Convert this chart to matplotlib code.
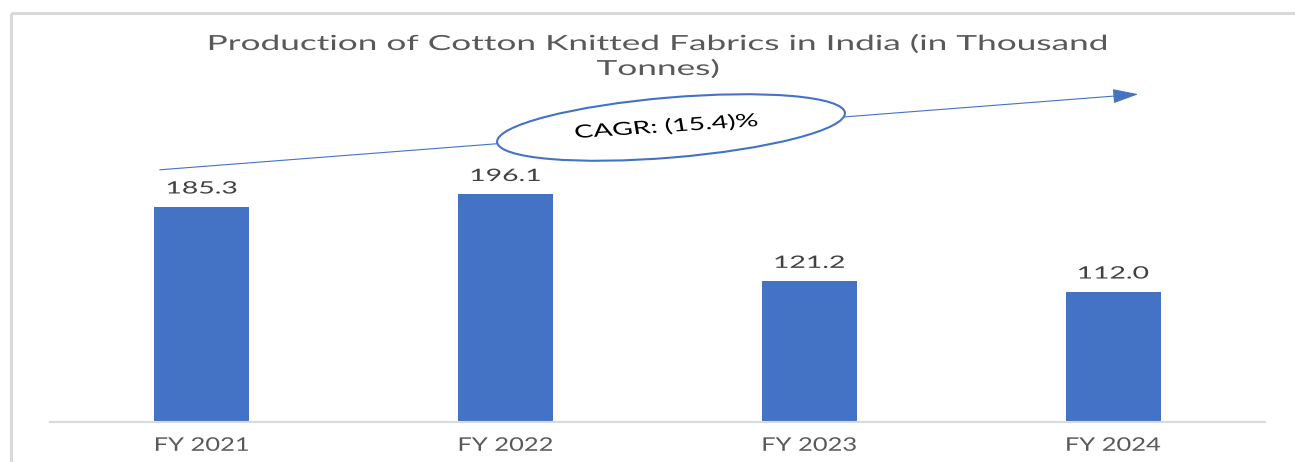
import matplotlib
matplotlib.use("Agg")
import matplotlib.pyplot as plt
from matplotlib.patches import Ellipse, FancyArrowPatch, Rectangle
from matplotlib.patheffects import AbstractPathEffect
from matplotlib.transforms import Affine2D

categories = ["FY 2021", "FY 2022", "FY 2023", "FY 2024"]
production = [185.3, 196.1, 121.2, 112.0]
value_labels = ["185.3", "196.1", "121.2", "112.0"]
title_lines = ["Production of Cotton Knitted Fabrics in India (in Thousand", "Tonnes)"]
cagr_text = "CAGR: (15.4)%"

BLUE = "#4472C4"
W, H = 1295, 462

plt.rcParams["font.family"] = ["Lato", "DejaVu Sans"]


class WideText(AbstractPathEffect):
    """Draw text widened horizontally about its own centre."""

    def __init__(self, sx):
        super().__init__()
        self.sx = sx

    def draw_path(self, renderer, gc, tpath, affine, rgbFace=None):
        ext = tpath.get_extents(affine)
        cx = 0.5 * (ext.x0 + ext.x1)
        t = affine + Affine2D().translate(-cx, 0).scale(self.sx, 1).translate(cx, 0)
        renderer.draw_path(gc, tpath, t, rgbFace)


fig = plt.figure(figsize=(W / 100, H / 100), dpi=100)
fig.patch.set_facecolor("white")

# overlay in pixel coordinates for the frame, title and trend annotation
over = fig.add_axes([0, 0, 1, 1])
over.set_xlim(0, W)
over.set_ylim(H, 0)
over.axis("off")

# bar axes
x0, x1, yb, yt = 50, 1265, 421.5, 40
ax = fig.add_axes([x0 / W, (H - yb) / H, (x1 - x0) / W, (yb - yt) / H])
ax.set_xlim(-0.5, len(categories) - 0.5)
ax.set_ylim(0, (yb - yt) / 1.16)
xs = range(len(categories))
ax.bar(xs, production, width=0.313, color=BLUE, zorder=2)
for x, v, lab in zip(xs, production, value_labels):
    ax.annotate(lab, (x, v), xytext=(0, 9.4), textcoords="offset points",
                ha="center", va="baseline", fontsize=12.3, color="#404040",
                path_effects=[WideText(1.66)])
ax.set_xticks(list(xs))
ax.set_xticklabels(categories, fontsize=13.5, color="#595959")
for t in ax.get_xticklabels():
    t.set_path_effects([WideText(1.36)])
ax.tick_params(axis="x", length=0, pad=11)
ax.set_yticks([])
for s in ["left", "right", "top"]:
    ax.spines[s].set_visible(False)
ax.spines["bottom"].set_color("#D9D9D9")
ax.spines["bottom"].set_linewidth(1.5)
ax.patch.set_alpha(0)

# outer chart frame
over.add_patch(Rectangle((11, 13), W + 20, H + 20, fill=False,
                         edgecolor="#D9D9D9", linewidth=2.2))

for line, yb_line in zip(title_lines, [50, 75]):
    over.text(658, yb_line, line, ha="center", va="baseline", fontsize=15,
              color="#595959", path_effects=[WideText(1.69)])

arrow = FancyArrowPatch((157, 170), (1141, 94),
                        arrowstyle="-|>,head_length=16,head_width=4.5",
                        mutation_scale=1, color=BLUE, linewidth=0.8, zorder=3)
over.add_patch(arrow)
over.add_patch(Ellipse((671, 127.5), 349, 60, angle=-4.8, facecolor="white",
                       edgecolor=BLUE, linewidth=1.5, zorder=4))
over.text(666, 127, cagr_text, ha="center", va="center", rotation=6,
          fontsize=13, color="black", zorder=5,
          path_effects=[WideText(1.57)])

fig.savefig("out.png", dpi=100)
